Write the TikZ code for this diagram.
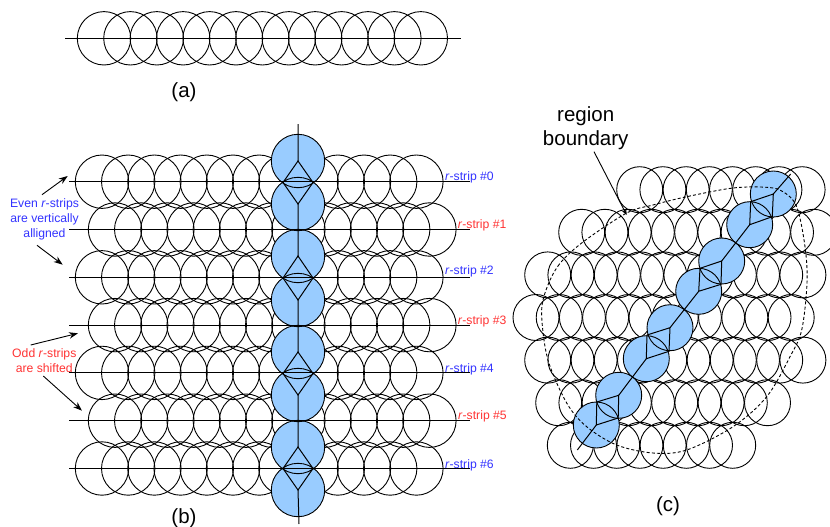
\documentclass[tikz,border=0pt]{standalone}
\usepackage{fontspec}
\setmainfont{Liberation Sans}
\usetikzlibrary{arrows.meta}
\definecolor{cellblue}{RGB}{153,204,255}
\definecolor{stripblue}{RGB}{51,51,255}
\definecolor{stripred}{RGB}{255,51,51}
\tikzset{
  cell/.style={circle,draw,line width=0.9pt,inner sep=0pt,outer sep=0pt,minimum size=53.4pt},
  smallcell/.style={cell,minimum size=46pt},
  fillcell/.style={circle,fill=cellblue,inner sep=0pt,outer sep=0pt,minimum size=53.4pt},
  smallfill/.style={fillcell,minimum size=46pt},
  wire/.style={draw,line width=1pt},
  note/.style={inner sep=0pt,font=\fontsize{12.2pt}{15pt}\selectfont,align=center},
  tag/.style={inner sep=0pt,font=\fontsize{12.2pt}{15pt}\selectfont,anchor=west},
  caption/.style={inner sep=0pt,font=\fontsize{20.5pt}{24pt}\selectfont,align=center},
  pointer/.style={draw,line width=0.9pt,-{Stealth[length=9pt,width=6.5pt]}}
}
\begin{document}
\begin{tikzpicture}[x=1pt,y=-1pt]
  \useasboundingbox (0,0) rectangle (830,527);

  % Single strip
  \foreach \i in {0,...,12} {
    \node[cell] (a\i) at ({104+26.4*\i},38.3) {};
  }
  \coordinate (al) at (65,38.3);
  \coordinate (ar) at (461,38.3);
  \draw[wire] (al) -- (ar);
  \node[caption] (capa) at (184,92.5) {(a)};

  % Strips of the middle part
  \foreach \r/\x in {0/102,1/115,2/102,3/115,4/102,5/115,6/102} {
    \foreach \i in {0,...,12} {
      \node[cell] (s\r-\i) at ({\x+26.2*\i},{181.7+47.8*\r}) {};
    }
  }

  % Blue cells of the middle part
  \foreach \i/\y in {1/161,2/204,3/256,4/300,5/352,6/395,7/447,8/490} {
    \node[fillcell] (f\i) at (298,\y) {};
  }
  \foreach \i/\y in {1/161,2/204,3/256,4/300,5/352,6/395,7/447,8/490} {
    \node[cell] (q\i) at (298,\y) {};
  }

  % Strip lines and their tags
  \foreach \r/\c/\x/\y in {0/stripblue/445/177.5,1/stripred/457.7/225,2/stripblue/445/271.5,
    3/stripred/457.7/321,4/stripblue/445/369,5/stripred/458/416,6/stripblue/445/465} {
    \coordinate (l\r) at (69,{181.7+47.8*\r});
    \coordinate (r\r) at (470,{181.7+47.8*\r});
    \draw[wire] (l\r) -- (r\r);
    \node[tag,text=\c] (t\r) at (\x,\y) {\textit{r}-strip \#\r};
  }

  % Spine with diamonds
  \coordinate (qtop) at (298,124);
  \coordinate (qbot) at (299,524);
  \draw[wire] (qtop) -- (q1.center) (q2.center) -- (q3.center) (q4.center) -- (q5.center)
    (q6.center) -- (q7.center) (q8.center) -- (qbot);
  \foreach \p/\q/\y in {1/2/182.5,3/4/278,5/6/373.5,7/8/468.5} {
    \coordinate (dl\p) at (283,\y);
    \coordinate (dr\p) at (313,\y);
    \draw[wire] (q\p.center) -- (dl\p) -- (q\q.center) -- (dr\p) -- cycle;
  }

  % Notes on the left
  \node[note,text=stripblue] (even) at (44.5,219.5) {Even \textit{r}-strips\\are vertically\\alligned};
  \node[note,text=stripred] (odd) at (44.3,360.5) {Odd \textit{r}-strips\\are shifted};
  \coordinate (e1) at (67.7,176);
  \coordinate (e2) at (62.7,264.7);
  \coordinate (o1) at (78,333.3);
  \coordinate (o2) at (82,410.7);
  \coordinate (es1) at (42,194.7);
  \coordinate (es2) at (37,245.3);
  \coordinate (os1) at (30.7,345);
  \coordinate (os2) at (43.3,376);
  \draw[pointer] (es1) -- (e1);
  \draw[pointer] (es2) -- (e2);
  \draw[pointer] (os1) -- (o1);
  \draw[pointer] (os2) -- (o2);
  \node[caption] (capb) at (184,518) {(b)};

  % Strips of the right part
  \foreach \r/\x/\n in {0/639.7/7,1/581.7/10,2/547.7/11,3/536/11,4/547.7/11,5/558.7/9,6/570.3/7} {
    \foreach \i in {0,...,\n} {
      \node[smallcell] (c\r-\i) at ({\x+23.2*\i},{189.7+42.6*\r}) {};
    }
  }

  % Blue cells of the right part
  \foreach \i/\x/\y in {1/596.3/425,2/618.7/395.3,3/646.3/358.7,4/670/327.7,
    5/698.7/291.3,6/721.7/261,7/749.7/224.7,8/773.3/194} {
    \node[smallfill] (g\i) at (\x,\y) {};
  }
  \foreach \i/\x/\y in {1/596.3/425,2/618.7/395.3,3/646.3/358.7,4/670/327.7,
    5/698.7/291.3,6/721.7/261,7/749.7/224.7,8/773.3/194} {
    \node[smallcell] (p\i) at (\x,\y) {};
  }

  % Slanted spine
  \coordinate (pbot) at (577.3,450);
  \coordinate (ptop) at (790.7,174);
  \draw[wire] (pbot) -- (p1.center) (p2.center) -- (p3.center) (p4.center) -- (p5.center)
    (p6.center) -- (p7.center) (p8.center) -- (ptop);
  \foreach \p/\q/\ax/\ay/\bx/\by in {1/2/596.8/402/618.2/418,3/4/647/335/669/351.3,
    5/6/700/268.3/721/284.3,7/8/750.7/201.7/772.3/216.7} {
    \coordinate (va\p) at (\ax,\ay);
    \coordinate (vb\p) at (\bx,\by);
    \draw[wire] (p\p.center) -- (va\p) -- (p\q.center) -- (vb\p) -- cycle;
  }

  % Region boundary
  \draw[line width=0.9pt,dash pattern=on 3pt off 2.2pt] plot[smooth cycle,tension=0.55] coordinates {
    (545,293) (558,266) (581.7,243) (626.7,213) (653,205) (686.7,196.7) (733,188) (766.7,187.3)
    (783,191.7) (796.7,206.7) (805,246.7) (807,283) (801.7,330) (790,356.7) (766.7,396.7)
    (733,426.7) (686.7,450) (653,453) (616.7,445) (586.7,426.7) (566.7,403) (548,360) (541.7,316.7)};
  \node[caption] (regn) at (585.7,128) {region\\boundary};
  \coordinate (rs) at (594,151.7);
  \coordinate (re) at (626.7,215);
  \draw[line width=0.9pt,-{Stealth[length=6pt,width=5pt]}] (rs) -- (re);
  \node[caption] (capc) at (668,506) {(c)};
\end{tikzpicture}
\end{document}
